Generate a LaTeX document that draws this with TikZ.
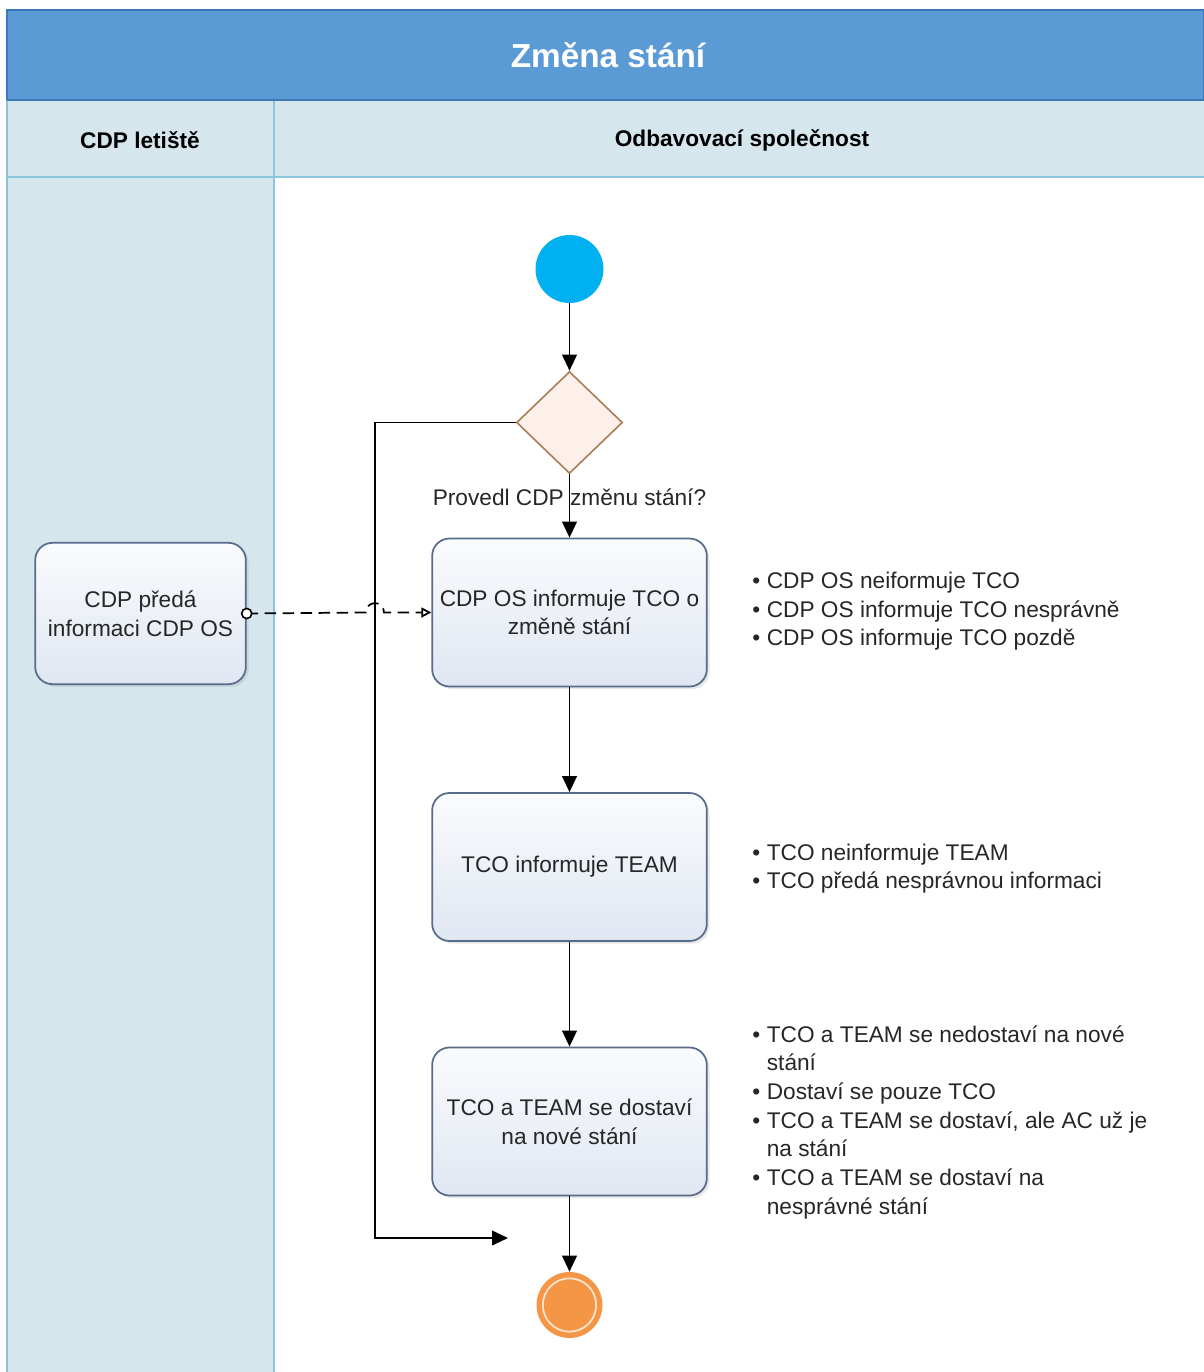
\documentclass[tikz,border=0pt]{standalone}
\usepackage{fontspec}
\setmainfont{Liberation Sans}
\usetikzlibrary{arrows.meta,shapes.geometric,shadows}

\definecolor{titleblue}{RGB}{91,155,213}
\definecolor{titleedge}{RGB}{60,120,185}
\definecolor{lanefill}{RGB}{214,230,237}
\definecolor{laneline}{RGB}{140,198,222}
\definecolor{boxedge}{RGB}{88,108,138}
\definecolor{boxtop}{RGB}{250,251,253}
\definecolor{boxbot}{RGB}{224,231,242}
\definecolor{startblue}{RGB}{0,176,240}
\definecolor{endorange}{RGB}{245,150,70}
\definecolor{decfill}{RGB}{253,240,234}
\definecolor{decedge}{RGB}{170,125,85}
\definecolor{txt}{RGB}{38,38,38}

\begin{document}
\begin{tikzpicture}[x=0.75pt,y=-0.75pt,
  bodyfont/.style={font=\fontsize{17}{21.5}\selectfont, text=txt},
  task/.style={bodyfont, draw=boxedge, line width=1.3pt, rounded corners=13pt,
    top color=boxtop, bottom color=boxbot, align=center, inner sep=0pt,
    minimum width=206pt, minimum height=111pt,
    drop shadow={opacity=0.18, shadow xshift=2pt, shadow yshift=-2pt}},
  flow/.style={draw=black, line width=1.4pt, -{Triangle[length=12pt,width=11pt]}},
  msgflow/.style={draw=black, line width=1.3pt, dash pattern=on 8.5pt off 5pt,
    -{Triangle[open,length=7.5pt,width=7.5pt]}},
  lanehead/.style={font=\fontsize{17}{20}\selectfont\bfseries, text=black},
  notes/.style={bodyfont, anchor=base west, inner sep=0pt, align=left},
  bul/.style={}
]
\useasboundingbox (0,0) rectangle (1204,1372);

% pool title and lane headers
\fill[lanefill] (7,100) rectangle (1204,177);
\fill[lanefill] (7,177) rectangle (274,1372);
\draw[titleedge, fill=titleblue, line width=1pt] (7,10) rectangle (1204,100);
\draw[laneline, line width=1.2pt] (7,100) -- (7,1372);
\draw[laneline, line width=1.2pt] (274,100) -- (274,1372);
\draw[laneline, line width=2pt] (7,177) -- (1204,177);
\draw[titleedge, line width=2pt] (7,100) -- (1204,100);
\node[font=\fontsize{25}{30}\selectfont\bfseries, text=white] (pooltitle) at (608,55) {Změna stání};
\node[lanehead] (laneA) at (140,140) {CDP letiště};
\node[lanehead] (laneB) at (742,140) {Odbavovací společnost};

% flow nodes
\node[circle, fill=startblue, minimum size=51pt, inner sep=0pt] (start) at (569.5,269) {};
\node[diamond, draw=decedge, fill=decfill, line width=1.2pt, inner sep=0pt,
  minimum width=79.5pt, minimum height=76.5pt] (dec) at (569.5,422.5) {};
\node[bodyfont] (declabel) at (569.5,497) {Provedl CDP změnu stání?};
\node[task] (t1) at (569.5,612.5) {CDP OS informuje TCO o\\změně stání};
\node[task] (t2) at (569.5,867) {TCO informuje TEAM};
\node[task] (t3) at (569.5,1121.5) {TCO a TEAM se dostaví\\na nové stání};
\node[task, minimum width=158pt, minimum height=106pt] (lbox) at (140.5,613.5) {CDP předá\\informaci CDP OS};
\node[circle, fill=endorange, minimum size=49.5pt, inner sep=0pt] (end) at (569.5,1305) {};
\draw[white!75!endorange, line width=1.3pt] (end.center) circle (20pt);

% sequence flows
\draw[flow] (start) -- (dec.north);
\draw[flow] (dec.south) -- (t1.north);
\draw[flow] (t1) -- (t2);
\draw[flow] (t2) -- (t3);
\draw[flow] (t3) -- (end);
\coordinate (loopcorner) at (375,1238);
\coordinate (loopend) at (508,1238);
\draw[flow] (dec.west) -| (loopcorner) -- (loopend);

% message flow hopping over the loop line
\coordinate (hopL) at (366,612.5);
\coordinate (hopR) at (384,612.5);
\draw[msgflow] (lbox.east) -- (hopL) .. controls (366,600) and (384,600) .. (hopR) -- (t1.west);
\draw[black, line width=1.2pt, fill=white] (lbox.east) circle (3.8pt);

% risk notes
\node[notes] (n1) at (752,588.5) {\begin{tabular}[t]{@{}l@{\hspace{5pt}}l@{}}
\textbullet & CDP OS neiformuje TCO\\
\textbullet & CDP OS informuje TCO nesprávně\\
\textbullet & CDP OS informuje TCO pozdě
\end{tabular}};
\node[notes] (n2) at (752,860) {\begin{tabular}[t]{@{}l@{\hspace{5pt}}l@{}}
\textbullet & TCO neinformuje TEAM\\
\textbullet & TCO předá nesprávnou informaci
\end{tabular}};
\node[notes] (n3) at (752,1042) {\begin{tabular}[t]{@{}l@{\hspace{5pt}}l@{}}
\textbullet & TCO a TEAM se nedostaví na nové\\
 & stání\\
\textbullet & Dostaví se pouze TCO\\
\textbullet & TCO a TEAM se dostaví, ale AC už je\\
 & na stání\\
\textbullet & TCO a TEAM se dostaví na\\
 & nesprávné stání
\end{tabular}};
\end{tikzpicture}
\end{document}
